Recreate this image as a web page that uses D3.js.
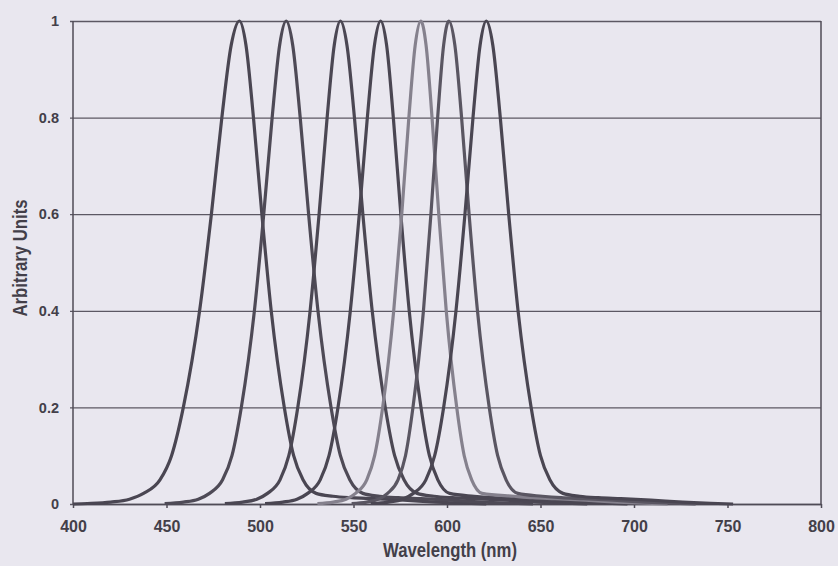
<!DOCTYPE html>
<html>
<head>
<meta charset="utf-8">
<script src="https://cdn.jsdelivr.net/npm/d3@7"></script>
<style>
  body { margin: 0; background: #e9e7ef; }
  svg { display: block; }
</style>
</head>
<body>
<svg id="chart"></svg>
<script>
// tick values
var wavelengthTicks = [400, 450, 500, 550, 600, 650, 700, 750, 800];
var unitTicks = [0, 0.2, 0.4, 0.6, 0.8, 1];

// one array per band: [wavelength nm, arbitrary units]
var band489 = [[400,0],[407.7,0.001],[420.2,0.004],[430.2,0.01],[437.7,0.022],[446.5,0.05],[452.7,0.1],[459,0.2],[467.7,0.4],[474,0.6],[479.6,0.8],[484.6,0.95],[489,1],
  [492.5,0.95],[496.5,0.8],[501,0.6],[506,0.4],[513,0.2],[518,0.1],[523,0.05],[530,0.022],[539,0.016],[549,0.013],[561,0.011],[577,0.008],[594,0.004],[609,0.0015],[621,0]];
var band514 = [[449,0.001],[459,0.004],[467,0.01],[473,0.022],[480,0.05],[485,0.1],[490,0.2],[497,0.4],[502,0.6],[506.5,0.8],[510.5,0.95],[514,1],
  [517.5,0.95],[521.5,0.8],[526,0.6],[531,0.4],[538,0.2],[543,0.1],[548,0.05],[555,0.022],[564,0.016],[574,0.013],[586,0.011],[602,0.008],[619,0.004],[634,0.0015],[646,0]];
var band543 = [[481.2,0.001],[490.7,0.004],[498.3,0.01],[504,0.022],[510.7,0.05],[515.4,0.1],[520.2,0.2],[526.8,0.4],[531.6,0.6],[535.9,0.8],[539.7,0.95],[543,1],
  [546.5,0.95],[550.5,0.8],[555,0.6],[560,0.4],[567,0.2],[572,0.1],[577,0.05],[584,0.022],[593,0.016],[603,0.013],[615,0.011],[631,0.008],[648,0.004],[663,0.0015],[675,0]];
var band564 = [[502.7,0.001],[512.2,0.004],[519.8,0.01],[525.5,0.022],[532.2,0.05],[536.9,0.1],[541.7,0.2],[548.3,0.4],[553.1,0.6],[557.4,0.8],[561.2,0.95],[564.5,1],
  [567.7,0.95],[571.3,0.8],[575.3,0.6],[579.8,0.4],[586.1,0.2],[590.6,0.1],[595.1,0.05],[601.4,0.022],[614.5,0.016],[624.5,0.013],[636.5,0.011],[652.5,0.008],[669.5,0.004],[684.5,0.0015],[696.5,0]];
var band586 = [[530.7,0.001],[539.2,0.004],[546,0.01],[551.1,0.022],[557.1,0.05],[561.3,0.1],[565.6,0.2],[571.5,0.4],[575.8,0.6],[579.6,0.8],[583,0.95],[586,1],
  [588.8,0.95],[592,0.8],[595.6,0.6],[599.6,0.4],[605.2,0.2],[609.2,0.1],[613.2,0.05],[618.8,0.022],[636,0.016],[646,0.013],[658,0.011],[674,0.008],[691,0.004],[706,0.0015],[718,0]];
var band601 = [[549,0.001],[557,0.004],[563.4,0.01],[568.2,0.022],[573.8,0.05],[577.8,0.1],[581.8,0.2],[587.4,0.4],[591.4,0.6],[595,0.8],[598.2,0.95],[601,1],
  [604.2,0.95],[607.8,0.8],[611.8,0.6],[616.3,0.4],[622.6,0.2],[627.1,0.1],[631.6,0.05],[637.9,0.022],[651,0.016],[661,0.013],[673,0.011],[689,0.008],[706,0.004],[721,0.0015],[733,0]];
var band621 = [[559.2,0.001],[568.7,0.004],[576.3,0.01],[582,0.022],[588.7,0.05],[593.4,0.1],[598.2,0.2],[604.8,0.4],[609.6,0.6],[613.9,0.8],[617.7,0.95],[621,1],
  [624.5,0.95],[628.5,0.8],[633,0.6],[638,0.4],[645,0.2],[650,0.1],[655,0.05],[662,0.022],[671,0.016],[681,0.013],[693,0.011],[709,0.008],[726,0.004],[741,0.0015],[753,0]];

var bands = [band489, band514, band543, band564, band586, band601, band621];
var bandColors = ['#4a4652', '#4e4a56', '#4b4753', '#4a4652', '#85818d', '#5a5662', '#4a4652'];

var svgWidth = 838,
    svgHeight = 566,
    margin = {top: 21, right: 17, bottom: 62, left: 73},
    width = svgWidth - margin.left - margin.right,
    height = svgHeight - margin.top - margin.bottom;

var inkColor = '#433f49';

var svg = d3.select('#chart')
    .attr('width', svgWidth)
    .attr('height', svgHeight);

var g = svg.append('g')
    .attr('transform', 'translate(' + margin.left + ',' + margin.top + ')');

var x = d3.scaleLinear().domain([400, 800]).range([0, width]);
var y = d3.scaleLinear().domain([0, 1]).range([height, 0]);

// horizontal grid + y axis
var yAxis = g.append('g')
    .call(d3.axisLeft(y).tickValues(unitTicks).tickSize(-width).tickPadding(12)
      .tickFormat(function(d) { return d === 0 || d === 1 ? d3.format('d')(d) : d3.format('.1f')(d); }));
yAxis.select('.domain').remove();
yAxis.selectAll('.tick line')
    .attr('x1', -3)
    .attr('stroke', '#5c5863')
    .attr('stroke-width', 1.3);
yAxis.selectAll('.tick text')
    .attr('fill', inkColor)
    .attr('x', -14)
    .style('font-family', '"Liberation Sans", Arial, sans-serif')
    .style('font-weight', 'bold')
    .style('font-size', '14.5px');

// left axis line and right border
g.append('line')
    .attr('x1', 0).attr('x2', 0).attr('y1', 0).attr('y2', height)
    .attr('stroke', '#4f4b56').attr('stroke-width', 1.5);
g.append('line')
    .attr('x1', width).attr('x2', width).attr('y1', 0).attr('y2', height)
    .attr('stroke', '#4f4b56').attr('stroke-width', 1.5);

// bottom axis
var xAxis = g.append('g')
    .attr('transform', 'translate(0,' + height + ')')
    .call(d3.axisBottom(x).tickValues(wavelengthTicks).tickSizeInner(4).tickSizeOuter(0).tickPadding(13));
xAxis.select('.domain').attr('stroke', '#4f4b56').attr('stroke-width', 1.5);
xAxis.selectAll('.tick line').attr('stroke', '#4f4b56').attr('stroke-width', 1.5);
xAxis.selectAll('.tick text')
    .attr('fill', inkColor)
    .style('font-family', '"Liberation Sans", Arial, sans-serif')
    .style('font-weight', 'bold')
    .style('font-size', '16px');

// the bands
var line = d3.line()
    .x(function(d) { return x(d[0]); })
    .y(function(d) { return y(d[1]); })
    .curve(d3.curveMonotoneX);

g.selectAll('.band')
  .data(bands)
  .enter()
  .append('path')
    .attr('class', 'band')
    .attr('d', line)
    .attr('fill', 'none')
    .attr('stroke', function(d, i) { return bandColors[i]; })
    .attr('stroke-width', 3.2)
    .attr('stroke-linejoin', 'round');

// axis titles
svg.append('text')
    .attr('x', margin.left + width / 2 + 3)
    .attr('y', 557)
    .attr('text-anchor', 'middle')
    .attr('textLength', 134)
    .attr('lengthAdjust', 'spacingAndGlyphs')
    .attr('fill', inkColor)
    .style('font-family', '"Liberation Sans Narrow", "Liberation Sans", Arial, sans-serif')
    .style('font-weight', 'bold')
    .style('font-size', '19.5px')
    .text('Wavelength (nm)');

svg.append('text')
    .attr('transform', 'translate(27,258) rotate(-90)')
    .attr('text-anchor', 'middle')
    .attr('textLength', 117)
    .attr('lengthAdjust', 'spacingAndGlyphs')
    .attr('fill', inkColor)
    .style('font-family', '"Liberation Sans Narrow", "Liberation Sans", Arial, sans-serif')
    .style('font-weight', 'bold')
    .style('font-size', '20px')
    .text('Arbitrary Units');
</script>
</body>
</html>
